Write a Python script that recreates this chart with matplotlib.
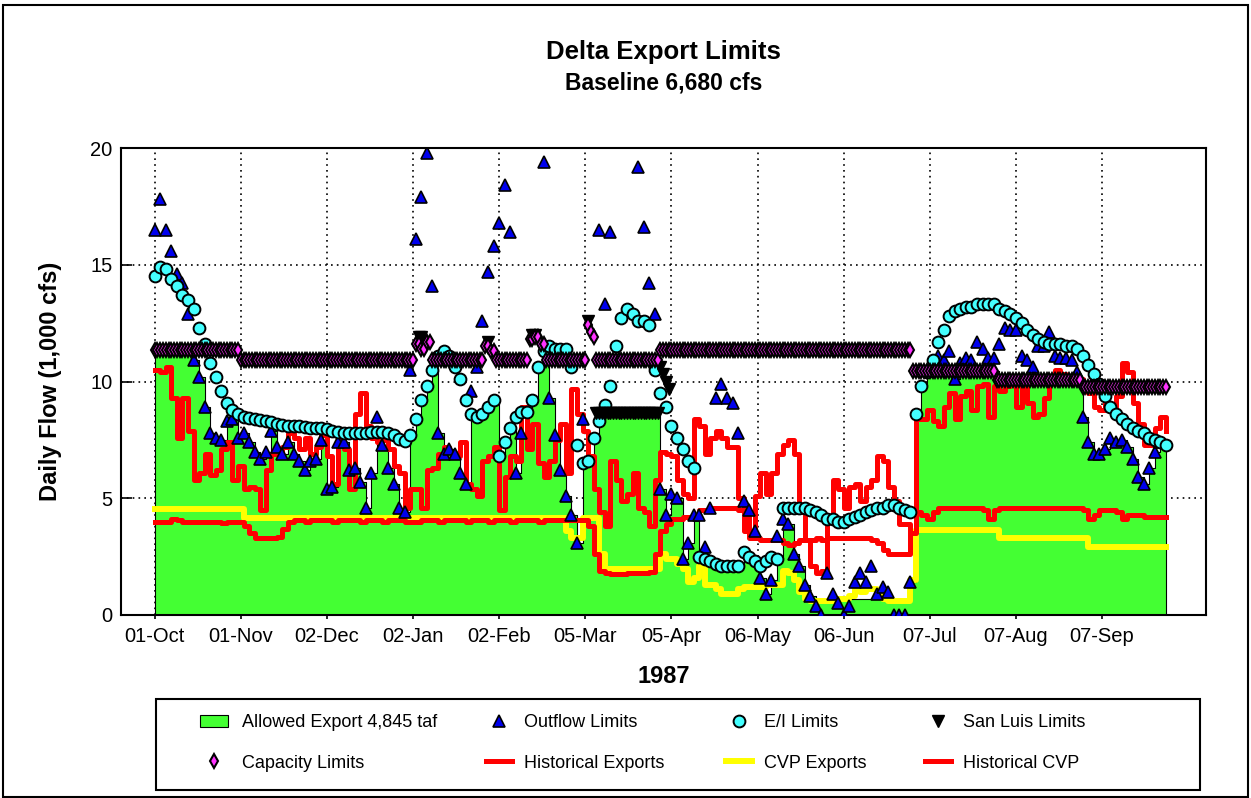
import matplotlib.pyplot as plt
import numpy as np
from matplotlib.patches import Rectangle

plt.rcParams['font.family'] = ['Liberation Sans', 'DejaVu Sans']

nan = np.nan

# day 0 = 01-Oct-1986, one value every second day, flows in 1,000 cfs
day = np.arange(0, 365, 2)

allowed_export = np.array(
    [11.35, 11.35, 11.35, 11.35, 11.35, 11.35, 11.35, 10.9, 10.2, 8.9, 7.8, 7.6, 7.5, 8.3, 8.4, 7.6]
    + [7.8, 7.4, 7.0, 6.7, 7.0, 7.9, 7.2, 6.9, 7.4, 6.9, 6.6, 6.2, 6.6, 6.7, 7.5]
    + [5.4, 5.5, 7.4, 7.4, 6.2, 6.3, 5.7, 4.6, 6.1, 7.85, 7.3, 6.3, 5.6, 4.6, 4.4, 7.7]
    + [8.4, 9.2, 9.8, 10.5, 7.8, 6.9, 7.1, 6.9, 6.1, 5.6, 8.6, 8.5, 8.6, 8.9, 9.2]
    + [6.8, 7.4, 8.0, 6.1, 7.8, 8.7, 9.2, 10.6, 11.3, 9.3, 7.7, 6.2, 5.1, 4.3]
    + [3.1, 6.5, 6.6, 7.6, 8.3, 8.65, 8.65, 8.65, 8.65, 8.65, 8.65, 8.65, 8.65, 8.65, 8.65]
    + [5.4, 4.3, 5.2, 5.0, 2.4, 3.1, 4.3, 2.5, 2.4, 2.3, 2.2, 2.1, 2.1, 2.1, 2.1]
    + [2.7, 2.5, 2.3, 1.6, 0.9, 1.5, 2.4, 4.1, 3.9, 2.6, 2.1, 1.3, 0.8, 0.7, 0.7]
    + [0.7, 0.7, 0.7, 0.7, 0.7, 0.7, 0.7, 0.7, 0.7, 0.7, 0.7, 0.7, 0.7, 0.7, 0.7]
    + [1.4, 8.6, 9.8, 10.4, 10.45, 10.45, 10.45, 10.45, 10.1, 10.45, 10.45, 10.45, 10.45, 10.45, 10.45, 10.45]
    + [10.05, 10.05, 10.05, 10.05, 10.05, 10.05, 10.05, 10.05, 10.05, 10.05, 10.05, 10.05, 10.05, 10.05, 10.05, 8.5]
    + [7.4, 6.9, 6.9, 7.1, 7.6, 7.4, 7.5, 7.2, 6.7, 5.9, 5.6, 6.3, 7.0, 7.4, 7.3]
)

# nan = above the top of the chart
outflow_limit = np.array(
    [16.5, 17.8, 16.5, 15.6, 14.6, 14.2, 12.9, 10.9, 10.2, 8.9, 7.8, 7.6, 7.5, 8.3, 8.4, 7.6]
    + [7.8, 7.4, 7.0, 6.7, 7.0, 7.9, 7.2, 6.9, 7.4, 6.9, 6.6, 6.2, 6.6, 6.7, 7.5]
    + [5.4, 5.5, 7.4, 7.4, 6.2, 6.3, 5.7, 4.6, 6.1, 8.5, 7.3, 6.3, 5.6, 4.6, 4.4, 10.5]
    + [16.1, 17.9, 19.8, 14.1, 7.8, 6.9, 7.1, 6.9, 6.1, 5.6, 9.6, 10.6, 12.6, 14.7, 15.8]
    + [16.8, 18.4, 16.4, 6.1, 7.8, nan, nan, nan, 19.4, 9.3, 7.7, 6.2, 5.1, 4.3]
    + [3.1, 8.4, nan, nan, 16.5, 13.3, 16.4, nan, nan, nan, nan, 19.2, 16.6, 14.2, 12.9]
    + [5.4, 4.3, 5.2, 5.0, 2.4, 3.1, 4.3, 4.3, 2.9, 4.6, 9.3, 9.9, 9.3, 9.1, 7.8]
    + [4.9, 4.5, 3.6, 1.6, 0.9, 1.5, 3.4, 4.1, 3.9, 2.6, 2.1, 1.3, 0.8, 0.4, 0.0]
    + [1.8, 0.9, 0.5, 0.0, 0.4, 1.4, 1.8, 1.4, 2.1, 0.9, 1.2, 1.0, 0.0, 0.0, 0.0]
    + [1.4, nan, nan, nan, nan, 11.1, 10.9, 11.3, 10.1, 10.8, 11.0, 10.9, 11.7, 11.4, 11.0, 11.0]
    + [11.6, 12.3, 12.2, 12.2, 11.1, 10.9, 10.6, 11.5, 11.5, 12.1, 11.1, 11.0, 11.0, 10.9, 10.4, 8.5]
    + [7.4, 6.9, 6.9, 7.1, 7.6, 7.4, 7.5, 7.2, 6.7, 5.9, 5.6, 6.3, 7.0, 7.4, nan]
)

ei_limit = np.array(
    [14.5, 14.9, 14.8, 14.4, 14.1, 13.7, 13.5, 13.1, 12.3, 11.6, 10.8, 10.2, 9.6, 9.1, 8.8, 8.6]
    + [8.5, 8.45, 8.4, 8.35, 8.3, 8.25, 8.2, 8.15, 8.1, 8.1, 8.1, 8.05, 8.0, 8.0, 8.0]
    + [7.95, 7.9, 7.85, 7.8, 7.8, 7.8, 7.8, 7.8, 7.85, 7.85, 7.85, 7.8, 7.7, 7.55, 7.45, 7.7]
    + [8.4, 9.2, 9.8, 10.5, 11.1, 11.3, 11.1, 10.6, 10.1, 9.2, 8.6, 8.5, 8.6, 8.9, 9.2]
    + [6.8, 7.4, 8.0, 8.5, 8.7, 8.7, 9.2, 10.6, 11.3, 11.5, 11.4, 11.4, 11.4, 10.6]
    + [7.3, 6.5, 6.6, 7.6, 8.3, 9.0, 9.8, 11.5, 12.7, 13.1, 12.9, 12.6, 12.6, 12.4, 10.5]
    + [9.5, 8.9, 8.1, 7.6, 7.1, 6.6, 6.3, 2.5, 2.4, 2.3, 2.2, 2.1, 2.1, 2.1, 2.1]
    + [2.7, 2.5, 2.3, 2.1, 2.3, 2.5, 2.4, 4.6, 4.6, 4.6, 4.6, 4.6, 4.5, 4.4, 4.3]
    + [4.1, 4.1, 4.0, 4.0, 4.1, 4.2, 4.3, 4.4, 4.5, 4.6, 4.6, 4.7, 4.7, 4.6, 4.5]
    + [4.4, 8.6, 9.8, 10.4, 10.9, 11.7, 12.2, 12.8, 13.0, 13.1, 13.2, 13.2, 13.3, 13.3, 13.3, 13.3]
    + [13.1, 13.0, 12.9, 12.7, 12.5, 12.2, 12.0, 11.8, 11.7, 11.6, 11.6, 11.6, 11.5, 11.5, 11.4, 11.1]
    + [10.7, 10.3, 9.9, 9.4, 8.9, 8.6, 8.4, 8.2, 8.0, 7.9, 7.8, 7.6, 7.5, 7.4, 7.3]
)

historical_exports = np.array(
    [10.5, 10.4, 10.6, 9.3, 7.6, 9.3, 7.9, 5.8, 6.1, 6.9, 6.0, 6.2, 7.1, 7.4, 5.8, 6.4]
    + [5.4, 5.5, 5.4, 4.5, 6.2, 6.9, 6.9, 7.2, 7.8, 7.6, 7.1, 7.6, 6.9, 7.2, 7.7]
    + [6.8, 5.6, 7.5, 7.1, 5.4, 8.6, 9.5, 8.1, 7.6, 7.4, 7.5, 7.1, 6.4, 6.1, 4.6, 5.4]
    + [5.4, 4.6, 6.2, 6.3, 6.9, 7.2, 7.0, 6.8, 7.4, 5.6, 5.4, 5.1, 6.6, 6.8, 7.2]
    + [4.5, 5.9, 6.8, 6.6, 8.9, 7.1, 8.2, 6.5, 5.9, 6.6, 7.5, 8.2, 6.1, 9.7]
    + [8.6, 7.9, 6.8, 5.4, 4.4, 3.8, 6.6, 5.8, 4.9, 5.2, 6.1, 4.6, 4.4, 3.8, 5.8]
    + [7.0, 6.9, 6.8, 5.8, 5.2, 5.0, 8.4, 8.1, 6.9, 7.6, 7.9, 7.6, 7.2, 7.2, 5.0]
    + [4.4, 3.4, 5.1, 6.1, 5.2, 6.1, 6.9, 7.3, 7.5, 6.9, 4.4, 3.2, 2.1, 1.8, 1.9]
    + [4.0, 5.8, 5.4, 4.6, 5.5, 5.6, 4.9, 5.5, 5.8, 6.8, 6.6, 5.5, 4.9, 3.9, 3.9]
    + [3.4, 8.4, 8.4, 8.8, 8.3, 8.1, 8.9, 9.5, 8.4, 9.4, 9.6, 8.8, 9.8, 9.9, 8.5, 9.8]
    + [9.6, 9.8, 9.9, 8.9, 9.8, 9.1, 8.5, 8.6, 9.3, 10.2, 10.5, 10.3, 10.1, 10.1, 10.1, 9.9]
    + [9.5, 8.9, 8.8, 9.1, 8.9, 9.4, 10.8, 10.4, 9.1, 8.2, 7.3, 7.3, 8.0, 8.5, 7.9]
)

cvp_exports = np.array(
    [4.55] * 16
    + [4.15] * 15
    + [4.15] * 16
    + [4.15] * 15
    + [4.15] * 12 + [3.6, 3.3]
    + [3.3, 4.15, 4.15, 4.15, 2.6] + [1.95] * 10
    + [2.6, 2.4, 2.4, 2.2, 1.95, 1.4, 1.6, 2.1, 1.3, 1.3, 1.1, 0.9, 0.9, 0.9, 1.1]
    + [1.2, 1.2, 1.2, 1.2, 1.3, 1.3, 1.3, 1.9, 1.8, 1.5, 1.0, 0.7, 0.6, 0.6, 0.6]
    + [0.6, 0.6, 0.7, 0.7, 0.8, 1.1, 1.0, 1.1, 1.1, 1.0, 0.7, 0.6, 0.6, 0.6, 0.6]
    + [1.5] + [3.65] * 15
    + [3.3] * 16
    + [2.9] * 15
)

historical_cvp = np.array(
    [4.0, 4.0, 4.0, 4.1, 4.05, 4.0, 4.0, 4.0, 4.0, 4.0, 4.0, 4.0, 3.95, 4.0, 4.0, 4.0]
    + [3.8, 3.5, 3.3, 3.3, 3.3, 3.3, 3.35, 3.7, 4.0, 4.05, 4.05, 4.0, 4.05, 4.05, 4.05]
    + [4.05, 4.0, 4.05, 4.05, 4.05, 4.05, 4.0, 4.05, 4.05, 4.05, 4.0, 4.05, 4.05, 4.05, 4.0, 4.0]
    + [4.0, 4.05, 4.05, 4.05, 4.0, 4.05, 4.05, 4.05, 4.05, 4.0, 4.05, 4.05, 4.05, 4.0, 4.05]
    + [4.05, 4.05, 4.0, 4.05, 4.05, 4.05, 4.05, 4.0, 4.05, 4.05, 4.05, 4.05, 4.05, 4.05]
    + [4.05, 4.05, 3.8, 2.6, 1.9, 1.8, 1.75, 1.75, 1.75, 1.8, 1.8, 1.8, 1.8, 1.85, 2.6]
    + [3.6, 3.9, 4.1, 4.1, 4.2, 4.2, 4.3, 4.5, 4.5, 4.6, 4.6, 4.6, 4.6, 4.6, 4.5]
    + [3.6, 3.3, 3.3, 3.2, 3.2, 3.2, 3.2, 3.1, 3.0, 3.1, 3.2, 3.2, 3.2, 3.3, 3.2]
    + [3.3, 3.3, 3.3, 3.3, 3.3, 3.3, 3.3, 3.3, 3.2, 3.1, 2.8, 2.6, 2.6, 2.6, 2.6]
    + [3.5, 4.4, 4.3, 4.1, 4.4, 4.6, 4.6, 4.6, 4.6, 4.6, 4.6, 4.6, 4.6, 4.5, 4.1, 4.5]
    + [4.6, 4.6, 4.6, 4.6, 4.6, 4.6, 4.6, 4.6, 4.6, 4.6, 4.6, 4.6, 4.6, 4.6, 4.6, 4.5]
    + [4.1, 4.3, 4.5, 4.5, 4.5, 4.4, 4.1, 4.3, 4.3, 4.3, 4.2, 4.2, 4.2, 4.2, 4.2]
)

# daily limits held constant over runs: (first day, last day, value)
capacity_runs = [
    (0, 30, 11.35), (31, 93, 10.9), (94, 95, 11.6), (96, 97, 11.4), (98, 99, 11.7),
    (100, 118, 10.9), (119, 120, 11.5), (121, 122, 11.3), (123, 134, 10.9),
    (135, 136, 11.8), (137, 138, 11.9), (139, 140, 11.6), (141, 155, 10.9),
    (156, 156, 12.4), (157, 157, 12.1), (158, 158, 11.9), (159, 181, 10.9),
    (182, 272, 11.35), (273, 302, 10.45), (303, 333, 10.05), (334, 364, 9.75),
]
san_luis_runs = [
    (95, 96, 11.9), (120, 120, 11.7), (136, 137, 12.0), (156, 156, 12.6),
    (159, 181, 8.65), (182, 182, 10.6), (183, 183, 10.3), (184, 184, 10.0), (185, 185, 9.7),
]

tick_days = [0, 31, 62, 93, 124, 155, 186, 217, 248, 279, 310, 341]
tick_labels = ['01-Oct', '01-Nov', '02-Dec', '02-Jan', '02-Feb', '05-Mar',
               '05-Apr', '06-May', '06-Jun', '07-Jul', '07-Aug', '07-Sep']


def expand(runs):
    days, vals = [], []
    for first, last, value in runs:
        for d in range(first, last + 1):
            days.append(d)
            vals.append(value)
    return np.array(days), np.array(vals)


cap_day, cap_val = expand(capacity_runs)
sl_day, sl_val = expand(san_luis_runs)

W, H = 1251, 798
fig = plt.figure(figsize=(W / 100, H / 100), dpi=100)
ax = fig.add_axes([121 / W, 1 - 615 / H, (1206 - 121) / W, (615 - 148) / H])

green = '#44ff33'
fill = ax.fill_between(day, allowed_export, step='post', facecolor=green,
                       edgecolor='black', linewidth=0.8, zorder=2)

hist_line, = ax.plot(day, historical_exports, color='red', lw=3.6,
                     drawstyle='steps-post', zorder=3)
cvp_line, = ax.plot(day, cvp_exports, color='yellow', lw=4.3,
                    drawstyle='steps-post', zorder=3)
hcvp_line, = ax.plot(day, historical_cvp, color='red', lw=3.6,
                     drawstyle='steps-post', zorder=3)

out_pts, = ax.plot(day, outflow_limit, ls='none', marker='^', ms=8.5,
                   mfc='#0000ee', mec='black', mew=1.2, zorder=5)
ei_pts, = ax.plot(day, ei_limit, ls='none', marker='o', ms=8.5,
                  mfc='#44ffff', mec='black', mew=1.4, zorder=6)
sl_pts, = ax.plot(sl_day, sl_val, ls='none', marker='v', ms=8.5,
                  mfc='black', mec='black', mew=1.0, zorder=6.5)
cap_pts, = ax.plot(cap_day, cap_val, ls='none', marker='d', ms=7,
                   mfc='#ff33ff', mec='black', mew=1.5, zorder=7)

ax.set_xlim(-12.1, 378.4)
ax.set_ylim(0, 20)
ax.set_xticks(tick_days, tick_labels)
ax.set_yticks([0, 5, 10, 15, 20])
ax.tick_params(axis='x', direction='out', length=3, width=1.2, pad=6, labelsize=14.5)
ax.tick_params(axis='y', direction='in', length=8, width=1.2, pad=6, labelsize=14.5)
ax.grid(True, color='black', linestyle=(0, (1, 2.5)), linewidth=1.2)
ax.set_axisbelow(True)
for s in ax.spines.values():
    s.set_linewidth(1.5)

ax.set_xlabel('1987', fontsize=17, fontweight='bold')
ax.xaxis.set_label_coords(0.5, (615 - 665) / 467)
ax.set_ylabel('Daily Flow (1,000 cfs)', fontsize=17, fontweight='bold')
ax.yaxis.set_label_coords((62 - 121) / 1085, 0.5)

fig.text(663.5 / W, 1 - 52 / H, 'Delta Export Limits', ha='center', va='center',
         fontsize=18.5, fontweight='bold')
fig.text(663.5 / W, 1 - 83 / H, 'Baseline 6,680 cfs', ha='center', va='center',
         fontsize=16.5, fontweight='bold')

# legend: four two-row columns inside one framed box
legend_cols = [
    (200, [fill, cap_pts], ['Allowed Export 4,845 taf', 'Capacity Limits'], 1.55, 0.8),
    (486, [out_pts, hist_line], ['Outflow Limits', 'Historical Exports'], 1.45, 0.67),
    (726, [ei_pts, cvp_line], ['E/I Limits', 'CVP Exports'], 1.45, 0.67),
    (925, [sl_pts, hcvp_line], ['San Luis Limits', 'Historical CVP'], 1.45, 0.67),
]
for x0, handles, labels, hl, pad in legend_cols:
    fig.legend(handles, labels, loc='center left', bbox_to_anchor=(x0 / W, 1 - 743 / H),
               frameon=False, fontsize=13, handlelength=hl, handletextpad=pad,
               labelspacing=1.3, borderpad=0, borderaxespad=0, numpoints=1)

fig.add_artist(Rectangle((156 / W, 1 - 790 / H), (1200 - 156) / W, (790 - 699) / H,
                         transform=fig.transFigure, fill=False, ec='black', lw=1.5))
fig.add_artist(Rectangle((3 / W, 1 - 797 / H), (1248 - 3) / W, (797 - 5) / H,
                         transform=fig.transFigure, fill=False, ec='black', lw=1.5))

fig.savefig('out.png', dpi=100)
